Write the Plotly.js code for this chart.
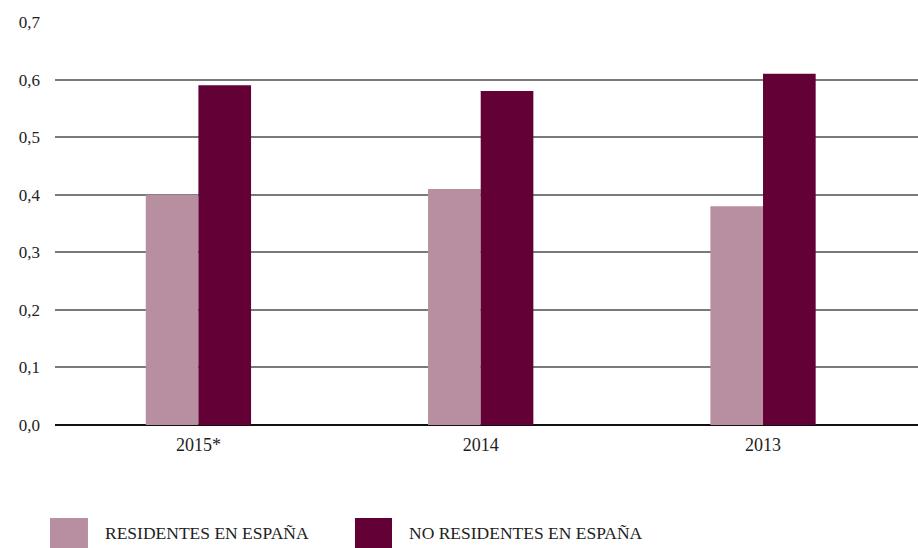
<!DOCTYPE html>
<html>
<head>
<meta charset="utf-8">
<script src="https://cdn.plot.ly/plotly-3.0.1.min.js"></script>
<style>
  html, body { margin: 0; padding: 0; background: #fff; }
  #chart { width: 918px; height: 548px; }
</style>
</head>
<body>
<div id="chart"></div>
<script>
const years = ['2015*', '2014', '2013']
const residentes = [0.40, 0.41, 0.38]
const noResidentes = [0.59, 0.58, 0.61]
const seriesNames = ['RESIDENTES EN ESPAÑA', 'NO RESIDENTES EN ESPAÑA']
const colors = ['#b88fa0', '#630035']

const container = document.getElementById('chart')
const serif = '"Liberation Serif", "DejaVu Serif", serif'

const traceRes = {
  name: seriesNames[0],
  x: years,
  y: residentes,
  type: 'bar',
  marker: {color: colors[0]},
  hoverinfo: 'x+y'
}

const traceNoRes = {
  name: seriesNames[1],
  x: years,
  y: noResidentes,
  type: 'bar',
  marker: {color: colors[1]},
  hoverinfo: 'x+y'
}

// hand made legend: big square swatches below the axis
const legendShapes = []
const legendLabels = []
const legendX = [[-0.0058, 0.0382, 0.0556], [0.3476, 0.3905, 0.4079]]
seriesNames.forEach((name, i) => {
  legendShapes.push({
    type: 'rect',
    xref: 'paper',
    yref: 'paper',
    x0: legendX[i][0],
    x1: legendX[i][1],
    y0: -0.305,
    y1: -0.2308,
    fillcolor: colors[i],
    line: {width: 0}
  })
  legendLabels.push({
    xref: 'paper',
    yref: 'paper',
    x: legendX[i][2],
    y: -0.268,
    xanchor: 'left',
    yanchor: 'middle',
    text: name,
    showarrow: false,
    font: {family: serif, size: 17.5, color: '#222'}
  })
})

const layout = {
  width: 918,
  height: 548,
  margin: {l: 55, r: 0, t: 22, b: 123},
  paper_bgcolor: '#fff',
  plot_bgcolor: '#fff',
  showlegend: false,
  barmode: 'group',
  bargap: 0.627,
  bargroupgap: 0,
  separators: ',.',
  font: {family: serif, color: '#222'},
  xaxis: {
    type: 'category',
    range: [-0.508, 2.549],
    showgrid: false,
    showline: false,
    ticks: '',
    ticklabelstandoff: 7,
    tickfont: {family: serif, size: 18, color: '#222'}
  },
  yaxis: {
    range: [0, 0.7],
    dtick: 0.1,
    tickformat: '.1f',
    showgrid: true,
    gridcolor: '#7a7a7a',
    gridwidth: 1.5,
    zeroline: true,
    zerolinecolor: '#111',
    zerolinewidth: 2,
    showline: false,
    ticks: '',
    ticklabelstandoff: 14,
    tickfont: {family: serif, size: 17, color: '#222'}
  },
  shapes: legendShapes,
  annotations: legendLabels
}

Plotly.newPlot(container, [traceRes, traceNoRes], layout, {displayModeBar: false})
</script>
</body>
</html>
